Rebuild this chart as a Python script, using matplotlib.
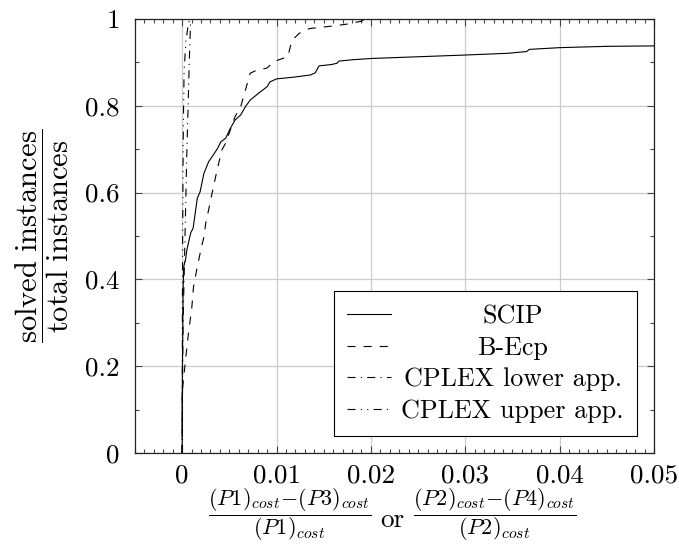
import numpy as np
import matplotlib
matplotlib.use("Agg")
import matplotlib.pyplot as plt
from matplotlib.ticker import MultipleLocator, FixedLocator, FixedFormatter

plt.rcParams['font.family'] = ['cmr10', 'DejaVu Serif']
plt.rcParams['mathtext.fontset'] = 'cm'
plt.rcParams['axes.formatter.use_mathtext'] = True
plt.rcParams['lines.scale_dashes'] = False

# data
scip_x = [0, 0, 0.00003, 0.0001, 0.00017, 0.00035, 0.0005, 0.0009, 0.00116, 0.0013,
          0.0016, 0.0019, 0.0023, 0.0028, 0.0033, 0.0037, 0.0041, 0.0046, 0.0051,
          0.0056, 0.0062, 0.0067, 0.0072, 0.0081, 0.009, 0.0093, 0.01, 0.0118,
          0.0136, 0.0141, 0.0145, 0.0158, 0.0164, 0.0166, 0.018, 0.02, 0.025,
          0.03, 0.0345, 0.0365, 0.0368, 0.04, 0.045, 0.05]
scip_y = [0, 0.1, 0.2, 0.38, 0.43, 0.445, 0.468, 0.507, 0.518, 0.54,
          0.587, 0.602, 0.644, 0.671, 0.687, 0.70, 0.717, 0.725, 0.748,
          0.767, 0.779, 0.798, 0.813, 0.829, 0.844, 0.855, 0.862, 0.866,
          0.871, 0.876, 0.892, 0.895, 0.898, 0.903, 0.906, 0.909, 0.913,
          0.917, 0.921, 0.925, 0.930, 0.934, 0.937, 0.938]

becp_x = [0, 0, 0.0001, 0.00035, 0.0007, 0.001, 0.0012, 0.0016, 0.0019, 0.0023,
          0.0025, 0.0028, 0.0032, 0.0037, 0.0042, 0.0046, 0.0051, 0.0056, 0.0062,
          0.0067, 0.0072, 0.0079, 0.009, 0.0097, 0.0105, 0.0112, 0.0115, 0.0117,
          0.0124, 0.0135, 0.016, 0.0174, 0.019, 0.0195]
becp_y = [0, 0.14, 0.16, 0.214, 0.283, 0.33, 0.383, 0.429, 0.46, 0.498,
          0.53, 0.56, 0.602, 0.652, 0.698, 0.714, 0.744, 0.775, 0.798,
          0.836, 0.875, 0.882, 0.887, 0.902, 0.908, 0.913, 0.94, 0.952,
          0.967, 0.978, 0.984, 0.988, 0.995, 1.0]

lower_x = [0, 0.00005, 0.0001, 0.0002, 0.0003, 0.0004, 0.0005, 0.00063, 0.00075, 0.0009]
lower_y = [0, 0.2, 0.3, 0.4, 0.5, 0.6, 0.7, 0.8, 0.9, 1.0]

upper_x = [0, 0.00002, 0.00005, 0.0001, 0.00015, 0.0002, 0.0004, 0.0006, 0.0008]
upper_y = [0, 0.3, 0.5, 0.7, 0.8, 0.88, 0.95, 0.98, 1.0]

labels = ['SCIP', 'B-Ecp', 'CPLEX lower app.', 'CPLEX upper app.']

xticks = [0, 0.01, 0.02, 0.03, 0.04, 0.05]
xticklabels = ['0', '0.01', '0.02', '0.03', '0.04', '0.05']
yticks = [0, 0.2, 0.4, 0.6, 0.8, 1.0]
yticklabels = ['0', '0.2', '0.4', '0.6', '0.8', '1']

fs = 19.5

fig = plt.figure(figsize=(6.79, 5.46), dpi=100)
ax = fig.add_axes([135 / 679, 1 - 453 / 546, 519 / 679, 434 / 546])

ax.plot(scip_x, scip_y, color='black', lw=0.8, ls='-', label=labels[0])
ax.plot(becp_x, becp_y, color='black', lw=0.8, ls=(0, (5.8, 5.8)), label=labels[1])
ax.plot(lower_x, lower_y, color='black', lw=0.8, ls=(0, (5.8, 3.8, 0.8, 3.8)), label=labels[2])
ax.plot(upper_x, upper_y, color='black', lw=0.8,
        ls=(0, (5.8, 3.8, 0.8, 3.8, 0.8, 3.8)), label=labels[3])

ax.set_xlim(-0.005, 0.05)
ax.set_ylim(0, 1)

ax.xaxis.set_major_locator(FixedLocator(xticks))
ax.xaxis.set_major_formatter(FixedFormatter(xticklabels))
ax.yaxis.set_major_locator(FixedLocator(yticks))
ax.yaxis.set_major_formatter(FixedFormatter(yticklabels))
ax.xaxis.set_minor_locator(MultipleLocator(0.001))
ax.yaxis.set_minor_locator(MultipleLocator(0.1))

ax.tick_params(which='both', direction='in', top=True, right=True, color='#444444', width=0.8)
ax.tick_params(which='major', length=5)
ax.tick_params(which='minor', length=3)
ax.tick_params(axis='x', labelsize=fs, pad=8)
ax.tick_params(axis='y', labelsize=fs, pad=11)

ax.grid(True, which='major', color='#cccccc', lw=0.9)
ax.set_axisbelow(True)
for sp in ax.spines.values():
    sp.set_linewidth(0.9)
    sp.set_color('#222222')

ax.set_ylabel(r'$\dfrac{\mathrm{solved\ instances}}{\mathrm{total\ instances}}$',
              fontsize=22, labelpad=10)

# x label: two fractions joined by "or"
xfs = 16
yb = 1 - 515 / 546
fig.text(392 / 679, 1 - 527 / 546, 'or', ha='center', va='baseline', fontsize=fs)
fig.text(372 / 679, yb, r'$\dfrac{(P1)_{cost}{-}(P3)_{cost}}{(P1)_{cost}}$',
         ha='right', va='center', fontsize=xfs)
fig.text(413 / 679, yb, r'$\dfrac{(P2)_{cost}{-}(P4)_{cost}}{(P2)_{cost}}$',
         ha='left', va='center', fontsize=xfs)

leg = ax.legend(loc='lower right', fontsize=18.8, fancybox=False, edgecolor='black',
                framealpha=1, handlelength=1.7, handletextpad=0.4, labelspacing=0.3,
                borderpad=0.5, borderaxespad=0.65)
leg.get_frame().set_linewidth(0.8)

# center the legend texts like the reference
fig.canvas.draw()
r = fig.canvas.get_renderer()
widths = [t.get_window_extent(r).width for t in leg.get_texts()]
wmax = max(widths)
for t, w in zip(leg.get_texts(), widths):
    t.set_x((wmax - w) / 2)

fig.savefig('out.png', dpi=100)
